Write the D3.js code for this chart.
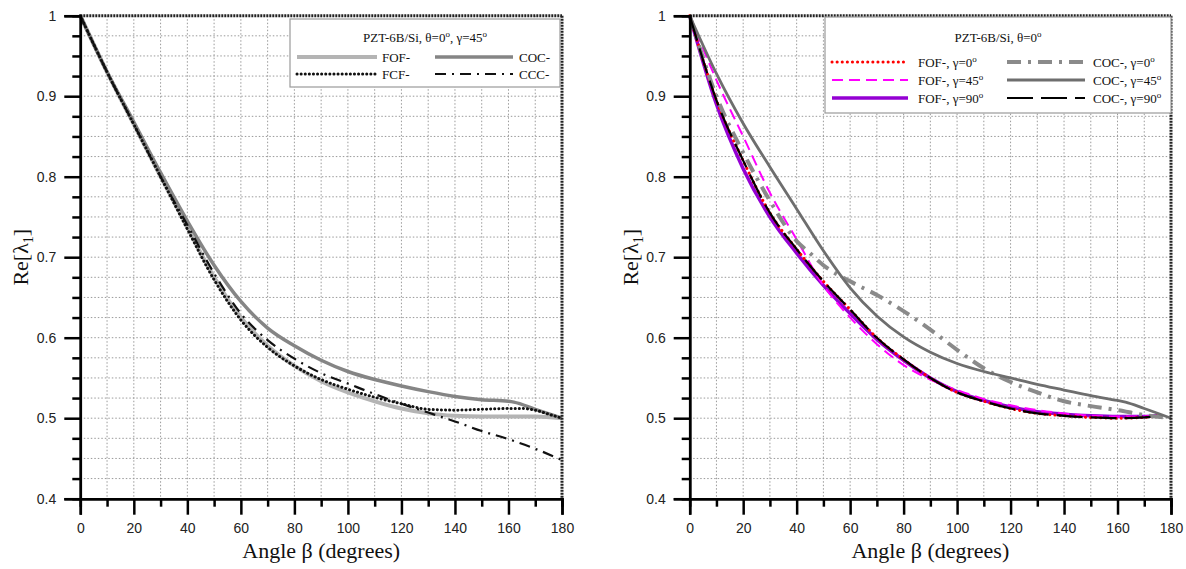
<!DOCTYPE html>
<html>
<head>
<meta charset="utf-8">
<script src="https://cdn.jsdelivr.net/npm/d3@7"></script>
<style>
  body { margin: 0; background: #fff; }
  svg { display: block; }
</style>
</head>
<body>
<div id="chart-area"></div>
<script>

// ---- data ----
// left panel: PZT-6B/Si, theta=0, gamma=45
let fofL = [[0,1],[10,0.93],[20,0.865],[30,0.8],[40,0.737],[50,0.675],[60,0.625],[70,0.59],[80,0.565],[90,0.546],[100,0.532],[110,0.521],[120,0.512],[130,0.506],[140,0.503],[150,0.502],[160,0.502],[170,0.502],[180,0.5]];
let cocL = [[0,1],[10,0.93],[20,0.868],[30,0.805],[40,0.745],[50,0.69],[60,0.645],[70,0.612],[80,0.59],[90,0.572],[100,0.558],[110,0.548],[120,0.54],[130,0.533],[140,0.527],[150,0.523],[160,0.521],[162,0.52],[170,0.511],[180,0.5]];
let fcfL = [[0,1],[10,0.93],[20,0.865],[30,0.8],[40,0.735],[50,0.672],[60,0.622],[70,0.588],[80,0.565],[90,0.548],[100,0.536],[110,0.526],[120,0.518],[130,0.511],[140,0.51],[150,0.511],[160,0.512],[165,0.512],[170,0.51],[175,0.505],[180,0.5]];
let cccL = [[0,1],[10,0.93],[20,0.865],[30,0.8],[40,0.74],[50,0.68],[60,0.63],[70,0.597],[80,0.574],[90,0.556],[100,0.543],[110,0.53],[120,0.518],[130,0.507],[140,0.496],[150,0.484],[160,0.474],[170,0.462],[180,0.448]];

// right panel: PZT-6B/Si, theta=0
let fofG0 = [[0,1],[10,0.895],[20,0.82],[30,0.755],[40,0.71],[50,0.67],[60,0.635],[70,0.6],[80,0.573],[90,0.55],[100,0.532],[110,0.521],[120,0.512],[130,0.506],[140,0.503],[150,0.501],[160,0.5],[170,0.501],[175,0.503]];
let fofG45 = [[0,1],[10,0.92],[20,0.85],[30,0.78],[40,0.722],[50,0.665],[60,0.625],[70,0.592],[80,0.566],[90,0.548],[100,0.535],[110,0.524],[120,0.516],[130,0.51],[140,0.506],[150,0.503],[160,0.502],[170,0.502],[175,0.503]];
let fofG90 = [[0,1],[10,0.89],[20,0.81],[30,0.75],[40,0.705],[50,0.665],[60,0.63],[70,0.598],[80,0.572],[90,0.55],[100,0.533],[110,0.522],[120,0.514],[130,0.508],[140,0.505],[150,0.503],[160,0.502],[170,0.502],[175,0.503]];
let cocG0 = [[0,1],[10,0.9],[20,0.83],[30,0.77],[40,0.72],[45,0.705],[50,0.69],[60,0.67],[70,0.653],[80,0.633],[90,0.61],[100,0.585],[110,0.562],[120,0.545],[130,0.532],[140,0.521],[150,0.515],[160,0.51],[170,0.504],[180,0.5]];
let cocG45 = [[0,1],[10,0.928],[20,0.866],[30,0.812],[40,0.76],[50,0.708],[60,0.662],[70,0.627],[80,0.601],[90,0.582],[100,0.568],[110,0.558],[120,0.55],[130,0.542],[140,0.535],[150,0.528],[160,0.522],[163,0.52],[170,0.512],[180,0.5]];
let cocG90 = [[0,1],[10,0.895],[20,0.82],[30,0.755],[40,0.71],[50,0.67],[60,0.635],[70,0.6],[80,0.573],[90,0.55],[100,0.532],[110,0.521],[120,0.512],[130,0.506],[140,0.503],[150,0.501],[160,0.5],[170,0.501],[175,0.503]];

let xMajor = [0,20,40,60,80,100,120,140,160,180];
let yMajor = [0.4,0.5,0.6,0.7,0.8,0.9,1];
let yLabels = ["0.4","0.5","0.6","0.7","0.8","0.9","1"];

// SVG Size
let width = 1186,
	height = 569;

let svg = d3.select("#chart-area").append("svg")
	.attr("width", width)
	.attr("height", height);

let plotTop = 15.7, plotBottom = 498.7;

drawPanel({
	left: 80.3, right: 562,
	title: ["PZT-6B/Si, θ=0", ", γ=45"],
	box: {x: 290, y: 19, w: 270, h: 68},
	titleY: 42,
	series: [
		{data: fofL, color: "#b4b4b4", w: 4, dash: null, label: "FOF-", col: 0, row: 0},
		{data: cocL, color: "#858585", w: 3.5, dash: null, label: "COC-", col: 1, row: 0},
		{data: fcfL, color: "#111", w: 3, dash: "0.1,4", cap: "round", label: "FCF-", col: 0, row: 1},
		{data: cccL, color: "#111", w: 2.2, dash: "11,6,2,6", label: "CCC-", col: 1, row: 1}
	],
	cols: [{x1: 297, x2: 377, tx: 382}, {x1: 435, x2: 513, tx: 519}],
	rows: [57, 74]
});

drawPanel({
	left: 689.7, right: 1171,
	title: ["PZT-6B/Si, θ=0"],
	box: {x: 825, y: 17, w: 346, h: 96},
	titleY: 42,
	series: [
		{data: fofG90, color: "#9400d3", w: 3.5, dash: null, label: "FOF-, γ=90", col: 0, row: 2},
		{data: fofG45, color: "#ff00ff", w: 2, dash: "11,6", label: "FOF-, γ=45", col: 0, row: 1},
		{data: fofG0, color: "#ff0000", w: 3, dash: "0.1,5", cap: "round", label: "FOF-, γ=0", col: 0, row: 0},
		{data: cocG0, color: "#8a8a8a", w: 4, dash: "14,7,3,7", label: "COC-, γ=0", col: 1, row: 0},
		{data: cocG45, color: "#6e6e6e", w: 2.8, dash: null, label: "COC-, γ=45", col: 1, row: 1},
		{data: cocG90, color: "#000", w: 2.2, dash: "26,8", label: "COC-, γ=90", col: 1, row: 2}
	],
	cols: [{x1: 832, x2: 908, tx: 918}, {x1: 1007, x2: 1085, tx: 1093}],
	rows: [62, 80, 98]
});

function drawPanel(p) {
	let x = d3.scaleLinear().domain([0, 180]).range([p.left, p.right]);
	let y = d3.scaleLinear().domain([0.4, 1]).range([plotBottom, plotTop]);

	let g = svg.append("g");

	// dotted grid at every minor tick
	let xGrid = d3.range(10, 180, 10);
	let yGrid = d3.range(0.425, 0.999, 0.025);
	g.selectAll(".vgrid").data(xGrid).enter().append("line")
		.attr("x1", d => x(d)).attr("x2", d => x(d))
		.attr("y1", plotTop).attr("y2", plotBottom)
		.attr("stroke", "#9a9a9a").attr("stroke-width", 1).attr("stroke-dasharray", "1.5,2");
	g.selectAll(".hgrid").data(yGrid).enter().append("line")
		.attr("x1", p.left).attr("x2", p.right)
		.attr("y1", d => y(d)).attr("y2", d => y(d))
		.attr("stroke", "#9a9a9a").attr("stroke-width", 1).attr("stroke-dasharray", "1.5,2");

	// curves
	let line = d3.line().x(d => x(d[0])).y(d => y(d[1])).curve(d3.curveMonotoneX);
	p.series.forEach(s => {
		g.append("path").datum(s.data)
			.attr("d", line)
			.attr("fill", "none")
			.attr("stroke", s.color)
			.attr("stroke-width", s.w)
			.attr("stroke-dasharray", s.dash)
			.attr("stroke-linecap", s.cap || "butt")
			.attr("stroke-linejoin", "round");
	});

	// top / right frame (dotted thick)
	g.append("line").attr("x1", p.left).attr("x2", p.right).attr("y1", plotTop).attr("y2", plotTop)
		.attr("stroke", "#222").attr("stroke-width", 3).attr("stroke-dasharray", "2,1");
	g.append("line").attr("x1", p.right).attr("x2", p.right).attr("y1", plotTop).attr("y2", plotBottom)
		.attr("stroke", "#222").attr("stroke-width", 3).attr("stroke-dasharray", "2,1");

	// axes
	let xAxis = d3.axisBottom(x).tickValues(xMajor).tickSize(16).tickPadding(8).tickFormat(d3.format("d"));
	let xMinor = d3.axisBottom(x).tickValues(d3.range(10, 180, 20)).tickSize(8).tickFormat("");
	let yAxis = d3.axisLeft(y).tickValues(yMajor).tickSize(16).tickPadding(8).tickFormat((d, i) => yLabels[i]);
	let yMinor = d3.axisLeft(y).tickValues(d3.range(0.425, 0.999, 0.025).filter(v => Math.abs(v*10 - Math.round(v*10)) > 0.01)).tickSize(8).tickFormat("");

	[[xAxis, "b"], [xMinor, "b"], [yAxis, "l"], [yMinor, "l"]].forEach(([ax, side]) => {
		let a = g.append("g")
			.attr("transform", side == "b" ? "translate(0," + plotBottom + ")" : "translate(" + p.left + ",0)")
			.call(ax);
		a.select(".domain").attr("stroke", "#000").attr("stroke-width", 2.5);
		a.selectAll(".tick line").attr("stroke", "#000").attr("stroke-width", 2.5);
		a.selectAll("text").attr("font-family", "'Liberation Sans', Arial, sans-serif")
			.attr("font-size", 14).attr("fill", "#222");
	});

	// axis titles
	g.append("text")
		.attr("x", (p.left + p.right) / 2).attr("y", 558)
		.attr("text-anchor", "middle")
		.attr("font-family", "'Liberation Serif', 'Times New Roman', serif")
		.attr("font-size", 22).attr("fill", "#111")
		.text("Angle β (degrees)");
	let yt = g.append("text")
		.attr("transform", "translate(" + (p.left - 52) + "," + ((plotTop + plotBottom) / 2) + ") rotate(-90)")
		.attr("text-anchor", "middle")
		.attr("font-family", "'Liberation Serif', 'Times New Roman', serif")
		.attr("font-size", 22).attr("fill", "#111");
	yt.append("tspan").text("Re[λ");
	yt.append("tspan").attr("font-size", 14).attr("dy", 5).text("1");
	yt.append("tspan").attr("dy", -5).text("]");

	// legend
	let lg = svg.append("g");
	lg.append("rect").attr("x", p.box.x).attr("y", p.box.y).attr("width", p.box.w).attr("height", p.box.h)
		.attr("fill", "#fff").attr("stroke", "#9a9a9a").attr("stroke-width", 1.2);

	let serif = "'Liberation Serif', 'Times New Roman', serif";
	let tt = lg.append("text")
		.attr("x", p.box.x + p.box.w / 2).attr("y", p.titleY)
		.attr("text-anchor", "middle")
		.attr("font-family", serif).attr("font-size", 13).attr("fill", "#111");
	p.title.forEach((part, i) => {
		tt.append("tspan").attr("dy", i ? 5 : 0).text(part);
		tt.append("tspan").attr("font-size", 9).attr("dy", -5).text("o");
	});

	p.series.forEach(s => {
		let c = p.cols[s.col], ry = p.rows[s.row];
		lg.append("line")
			.attr("x1", c.x1).attr("x2", c.x2).attr("y1", ry).attr("y2", ry)
			.attr("stroke", s.color).attr("stroke-width", s.w)
			.attr("stroke-dasharray", s.dash)
			.attr("stroke-linecap", s.cap || "butt");
		let t = lg.append("text")
			.attr("x", c.tx).attr("y", ry + 5)
			.attr("font-family", serif).attr("font-size", 13).attr("fill", "#111");
		t.append("tspan").text(s.label);
		if (/=\d+$/.test(s.label)) {
			t.append("tspan").attr("font-size", 9).attr("dy", -5).text("o");
		}
	});
}

</script>
</body>
</html>
